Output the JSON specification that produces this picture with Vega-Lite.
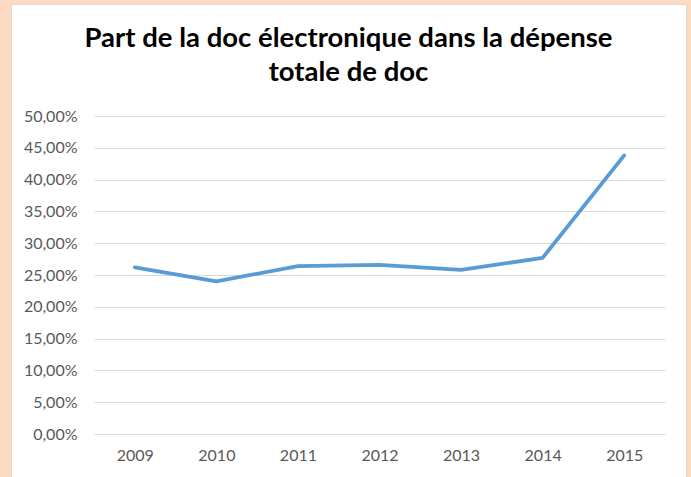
{
  "$schema": "https://vega.github.io/schema/vega-lite/v6.json",
  "width": 675,
  "height": 473,
  "autosize": {"type": "none"},
  "padding": {"left": 11, "top": 4, "right": 5, "bottom": 0},
  "background": "#FDDBC2",
  "config": {
    "view": {"fill": "#FFFFFF", "stroke": "#D9D9D9", "strokeWidth": 1}
  },
  "title": {
    "text": ["Part de la doc électronique dans la dépense", "totale de doc"],
    "font": "Lato",
    "fontSize": 27.5,
    "fontWeight": "bold",
    "color": "#000000",
    "anchor": "middle",
    "offset": -82,
    "lineHeight": 34
  },
  "data": {
    "values": [
      {"annee": "2009", "part": 0.262},
      {"annee": "2010", "part": 0.240},
      {"annee": "2011", "part": 0.264},
      {"annee": "2012", "part": 0.266},
      {"annee": "2013", "part": 0.258},
      {"annee": "2014", "part": 0.277},
      {"annee": "2015", "part": 0.438}
    ]
  },
  "mark": {"type": "line", "color": "#5B9BD5", "strokeWidth": 3.8, "strokeCap": "round", "strokeJoin": "round"},
  "encoding": {
    "x": {
      "field": "annee",
      "type": "ordinal",
      "scale": {"range": [83, 654]},
      "axis": {
        "orient": "bottom",
        "title": null,
        "labelAngle": 0,
        "ticks": false,
        "domain": false,
        "grid": false,
        "offset": -30,
        "labelPadding": 0,
        "labelFont": "Lato",
        "labelFontSize": 16,
        "labelColor": "#595959"
      }
    },
    "y": {
      "field": "part",
      "type": "quantitative",
      "scale": {"domain": [0, 0.5], "nice": false, "range": [430, 112]},
      "axis": {
        "title": null,
        "values": [0, 0.05, 0.1, 0.15, 0.2, 0.25, 0.3, 0.35, 0.4, 0.45, 0.5],
        "labelExpr": "replace(format(datum.value, '.2%'), '.', ',')",
        "ticks": false,
        "domain": false,
        "grid": true,
        "gridColor": "#D9D9D9",
        "gridWidth": 1,
        "offset": -66,
        "labelPadding": 0,
        "labelFont": "Lato",
        "labelFontSize": 16,
        "labelColor": "#595959"
      }
    }
  }
}
